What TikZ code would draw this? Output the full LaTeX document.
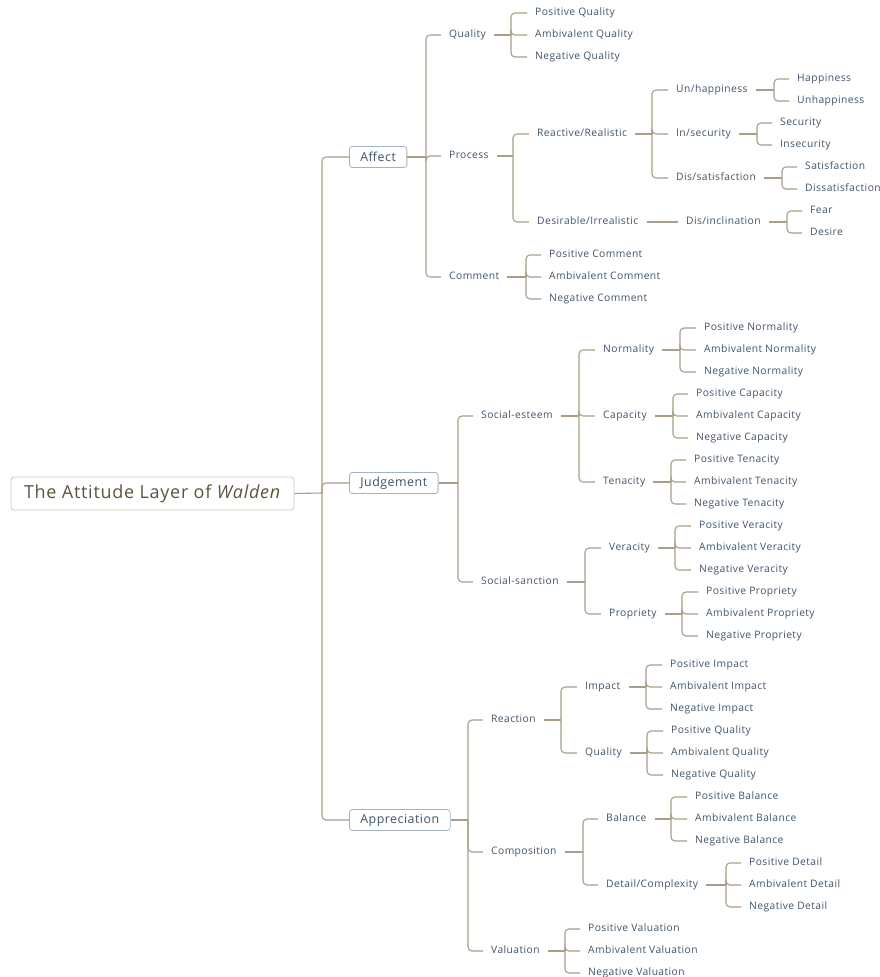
\documentclass[tikz,border=0pt]{standalone}
\usepackage{fontspec}
\setmainfont{Open Sans}[LetterSpace=4]
\definecolor{txt}{HTML}{3F5468}
\definecolor{ln}{HTML}{A89E8A}
\definecolor{bx}{HTML}{A3B3C2}
\definecolor{rootbx}{HTML}{CFC6B6}
\definecolor{roottxt}{HTML}{5E5440}
\tikzset{
  lf/.style={anchor=west, inner xsep=8pt, inner ysep=2pt, text height=7.5pt, text depth=2pt, text=txt, font=\fontsize{10.3}{12}\selectfont},
  br/.style={draw=ln, line width=1.1pt, rounded corners=4pt},
  topbox/.style={anchor=west, draw=bx, line width=0.8pt, rounded corners=3pt, fill=white, text=txt,
     font=\fontsize{12.4}{14}\selectfont, minimum height=21pt, inner xsep=11pt, inner ysep=2pt},
  rootbox/.style={draw=rootbx, line width=0.8pt, rounded corners=3pt, fill=white, text=roottxt,
     font=\fontsize{18}{21}\selectfont, minimum width=283pt, minimum height=33pt}
}
\begin{document}
\begin{tikzpicture}[x=1pt,y=-1pt]
\useasboundingbox (0,0) rectangle (879,977);
% root and top level
\node[rootbox] (root) at (152.5,493.5) {The Attitude Layer of \textit{Walden}};
\node[topbox] (affect) at (349,157) {Affect};
\node[topbox] (judge) at (349,483) {Judgement};
\node[topbox] (appr) at (349,820) {Appreciation};
\draw[br] (root.east) -- (322,493) coordinate (jR);
\foreach \c in {affect,judge,appr} \draw[br] (jR) |- (\c.west);

% ---------- Affect ----------
\node[lf] (aq) at (441,35) {Quality};
\node[lf] (ap) at (441,156) {Process};
\node[lf] (ac) at (441,277) {Comment};
\draw[br] (affect.east) -- (426,157) coordinate (jA);
\foreach \c in {aq,ap,ac} \draw[br] (jA) |- (\c.west);

\node[lf] (aq1) at (527,13) {Positive Quality};
\node[lf] (aq2) at (527,35) {Ambivalent Quality};
\node[lf] (aq3) at (527,57) {Negative Quality};
\draw[br] (aq.east) -- (511,35) coordinate (jAQ);
\foreach \c in {aq1,aq2,aq3} \draw[br] (jAQ) |- (\c.west);

\node[lf] (rr) at (529,134) {Reactive/Realistic};
\node[lf] (di) at (529,222) {Desirable/Irrealistic};
\draw[br] (ap.east) -- (513,156) coordinate (jAP);
\foreach \c in {rr,di} \draw[br] (jAP) |- (\c.west);

\node[lf] (uh) at (668,90) {Un/happiness};
\node[lf] (is) at (668,134) {In/security};
\node[lf] (ds) at (668,178) {Dis/satisfaction};
\draw[br] (rr.east) -- (652,134) coordinate (jRR);
\foreach \c in {uh,is,ds} \draw[br] (jRR) |- (\c.west);

\node[lf] (uh1) at (789,79) {Happiness};
\node[lf] (uh2) at (789,101) {Unhappiness};
\draw[br] (uh.east) -- (774,90) coordinate (jUH);
\foreach \c in {uh1,uh2} \draw[br] (jUH) |- (\c.west);

\node[lf] (is1) at (772,123) {Security};
\node[lf] (is2) at (772,145) {Insecurity};
\draw[br] (is.east) -- (757,134) coordinate (jIS);
\foreach \c in {is1,is2} \draw[br] (jIS) |- (\c.west);

\node[lf] (ds1) at (797,167) {Satisfaction};
\node[lf] (ds2) at (797,189) {Dissatisfaction};
\draw[br] (ds.east) -- (782,178) coordinate (jDS);
\foreach \c in {ds1,ds2} \draw[br] (jDS) |- (\c.west);

\node[lf] (dn) at (678,222) {Dis/inclination};
\draw[br] (di.east) -- (dn.west);
\node[lf] (dn1) at (802,211) {Fear};
\node[lf] (dn2) at (802,233) {Desire};
\draw[br] (dn.east) -- (787,222) coordinate (jDN);
\foreach \c in {dn1,dn2} \draw[br] (jDN) |- (\c.west);

\node[lf] (ac1) at (541,255) {Positive Comment};
\node[lf] (ac2) at (541,277) {Ambivalent Comment};
\node[lf] (ac3) at (541,299) {Negative Comment};
\draw[br] (ac.east) -- (526,277) coordinate (jAC);
\foreach \c in {ac1,ac2,ac3} \draw[br] (jAC) |- (\c.west);

% ---------- Judgement ----------
\node[lf] (se) at (473,416) {Social-esteem};
\node[lf] (ss) at (473,582) {Social-sanction};
\draw[br] (judge.east) -- (458,483) coordinate (jJ);
\foreach \c in {se,ss} \draw[br] (jJ) |- (\c.west);

\node[lf] (no) at (595,350) {Normality};
\node[lf] (ca) at (595,416) {Capacity};
\node[lf] (te) at (595,482) {Tenacity};
\draw[br] (se.east) -- (579,416) coordinate (jSE);
\foreach \c in {no,ca,te} \draw[br] (jSE) |- (\c.west);

\node[lf] (no1) at (696,328) {Positive Normality};
\node[lf] (no2) at (696,350) {Ambivalent Normality};
\node[lf] (no3) at (696,372) {Negative Normality};
\draw[br] (no.east) -- (680,350) coordinate (jNO);
\foreach \c in {no1,no2,no3} \draw[br] (jNO) |- (\c.west);

\node[lf] (ca1) at (688,394) {Positive Capacity};
\node[lf] (ca2) at (688,416) {Ambivalent Capacity};
\node[lf] (ca3) at (688,438) {Negative Capacity};
\draw[br] (ca.east) -- (673,416) coordinate (jCA);
\foreach \c in {ca1,ca2,ca3} \draw[br] (jCA) |- (\c.west);

\node[lf] (te1) at (686,460) {Positive Tenacity};
\node[lf] (te2) at (686,482) {Ambivalent Tenacity};
\node[lf] (te3) at (686,504) {Negative Tenacity};
\draw[br] (te.east) -- (671,482) coordinate (jTE);
\foreach \c in {te1,te2,te3} \draw[br] (jTE) |- (\c.west);

\node[lf] (ve) at (601,548) {Veracity};
\node[lf] (pr) at (601,614) {Propriety};
\draw[br] (ss.east) -- (585,582) coordinate (jSS);
\foreach \c in {ve,pr} \draw[br] (jSS) |- (\c.west);

\node[lf] (ve1) at (691,526) {Positive Veracity};
\node[lf] (ve2) at (691,548) {Ambivalent Veracity};
\node[lf] (ve3) at (691,570) {Negative Veracity};
\draw[br] (ve.east) -- (675,548) coordinate (jVE);
\foreach \c in {ve1,ve2,ve3} \draw[br] (jVE) |- (\c.west);

\node[lf] (pr1) at (698,592) {Positive Propriety};
\node[lf] (pr2) at (698,614) {Ambivalent Propriety};
\node[lf] (pr3) at (698,636) {Negative Propriety};
\draw[br] (pr.east) -- (682,614) coordinate (jPR);
\foreach \c in {pr1,pr2,pr3} \draw[br] (jPR) |- (\c.west);

% ---------- Appreciation ----------
\node[lf] (re) at (483,720) {Reaction};
\node[lf] (co) at (483,852) {Composition};
\node[lf] (va) at (483,951) {Valuation};
\draw[br] (appr.east) -- (468,820) coordinate (jP);
\foreach \c in {re,co,va} \draw[br] (jP) |- (\c.west);

\node[lf] (im) at (577,687) {Impact};
\node[lf] (rq) at (577,753) {Quality};
\draw[br] (re.east) -- (561,720) coordinate (jRE);
\foreach \c in {im,rq} \draw[br] (jRE) |- (\c.west);

\node[lf] (im1) at (662,665) {Positive Impact};
\node[lf] (im2) at (662,687) {Ambivalent Impact};
\node[lf] (im3) at (662,709) {Negative Impact};
\draw[br] (im.east) -- (646,687) coordinate (jIM);
\foreach \c in {im1,im2,im3} \draw[br] (jIM) |- (\c.west);

\node[lf] (rq1) at (663,731) {Positive Quality};
\node[lf] (rq2) at (663,753) {Ambivalent Quality};
\node[lf] (rq3) at (663,775) {Negative Quality};
\draw[br] (rq.east) -- (647,753) coordinate (jRQ);
\foreach \c in {rq1,rq2,rq3} \draw[br] (jRQ) |- (\c.west);

\node[lf] (ba) at (598,819) {Balance};
\node[lf] (dc) at (598,885) {Detail/Complexity};
\draw[br] (co.east) -- (583,852) coordinate (jCO);
\foreach \c in {ba,dc} \draw[br] (jCO) |- (\c.west);

\node[lf] (ba1) at (687,797) {Positive Balance};
\node[lf] (ba2) at (687,819) {Ambivalent Balance};
\node[lf] (ba3) at (687,841) {Negative Balance};
\draw[br] (ba.east) -- (671,819) coordinate (jBA);
\foreach \c in {ba1,ba2,ba3} \draw[br] (jBA) |- (\c.west);

\node[lf] (dc1) at (741,863) {Positive Detail};
\node[lf] (dc2) at (741,885) {Ambivalent Detail};
\node[lf] (dc3) at (741,907) {Negative Detail};
\draw[br] (dc.east) -- (726,885) coordinate (jDC);
\foreach \c in {dc1,dc2,dc3} \draw[br] (jDC) |- (\c.west);

\node[lf] (va1) at (580,929) {Positive Valuation};
\node[lf] (va2) at (580,951) {Ambivalent Valuation};
\node[lf] (va3) at (580,973) {Negative Valuation};
\draw[br] (va.east) -- (565,951) coordinate (jVA);
\foreach \c in {va1,va2,va3} \draw[br] (jVA) |- (\c.west);
\end{tikzpicture}
\end{document}
